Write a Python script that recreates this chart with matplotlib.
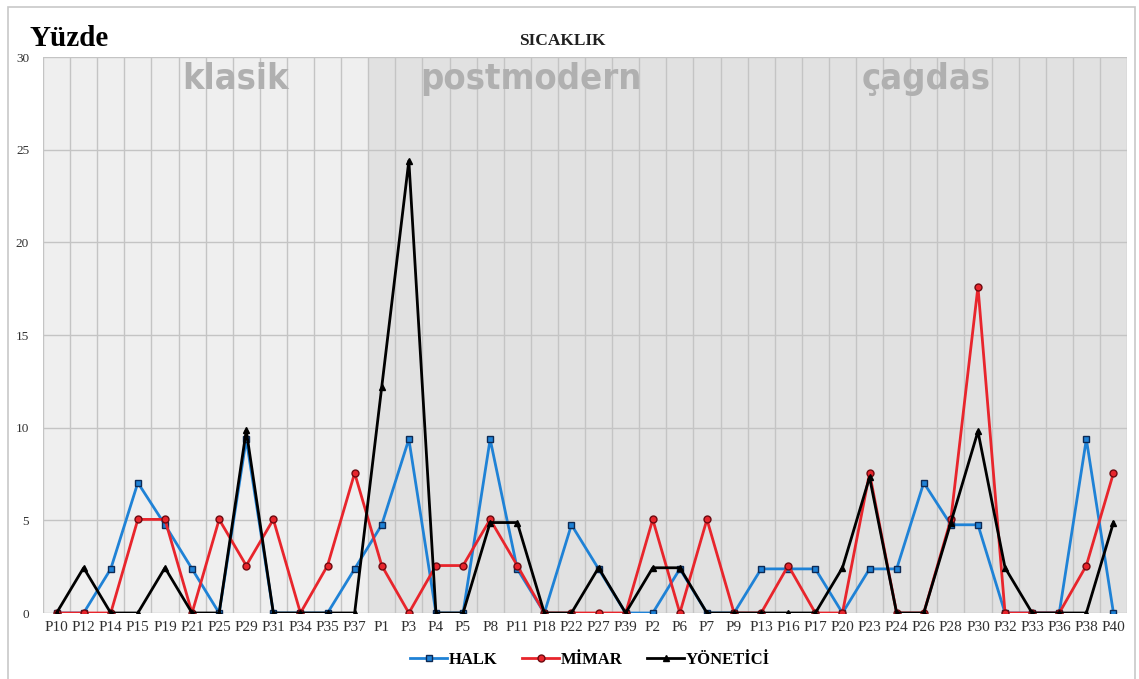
import matplotlib.pyplot as plt
from matplotlib.patches import Rectangle
from matplotlib.lines import Line2D

categories = ['P10', 'P12', 'P14', 'P15', 'P19', 'P21', 'P25', 'P29', 'P31', 'P34', 'P35', 'P37',
              'P1', 'P3', 'P4', 'P5', 'P8', 'P11', 'P18', 'P22', 'P27', 'P39', 'P2', 'P6',
              'P7', 'P9', 'P13', 'P16', 'P17', 'P20', 'P23', 'P24', 'P26', 'P28', 'P30', 'P32',
              'P33', 'P36', 'P38', 'P40']

halk = [0, 0, 2.38, 7.03, 4.76, 2.38, 0, 9.38, 0, 0, 0, 2.38,
        4.76, 9.38, 0, 0, 9.38, 2.38, 0, 4.76, 2.38, 0, 0, 2.38,
        0, 0, 2.38, 2.38, 2.38, 0, 2.38, 2.38, 7.03, 4.76, 4.76, 0,
        0, 0, 9.38, 0]

mimar = [0, 0, 0, 5.05, 5.05, 0, 5.05, 2.56, 5.05, 0, 2.56, 7.55,
         2.56, 0, 2.56, 2.56, 5.05, 2.56, 0, 0, 0, 0, 5.05, 0,
         5.05, 0, 0, 2.56, 0, 0, 7.55, 0, 0, 5.05, 17.6, 0,
         0, 0, 2.56, 7.55]

yonetici = [0, 2.44, 0, 0, 2.44, 0, 0, 9.85, 0, 0, 0, 0,
            12.2, 24.4, 0, 0, 4.88, 4.88, 0, 0, 2.44, 0, 2.44, 2.44,
            0, 0, 0, 0, 0, 2.44, 7.32, 0, 0, 4.88, 9.8, 2.44,
            0, 0, 0, 4.88]

series_names = ['HALK', 'MİMAR', 'YÖNETİCİ']
region_names = ['klasik', 'postmodern', 'çagdas']
region_n = [12, 12, 16]
region_label_x = [6.62, 17.5, 32.1]

serif = ['Liberation Serif', 'DejaVu Serif']

fig = plt.figure(figsize=(11.39, 6.79), dpi=100)
fig.patches.append(Rectangle((8 / 1139, -0.01), 1127 / 1139, 1 - 7 / 679 + 0.01,
                             transform=fig.transFigure, fill=False,
                             edgecolor='#c8c8c8', linewidth=1.2))

ax = fig.add_axes([43 / 1139, 1 - 613 / 679, 1084 / 1139, 556 / 679])
x = list(range(len(categories)))

# background shading for periods
ax.axvspan(-0.5, region_n[0] - 0.5, color='#efefef', zorder=0, lw=0)
ax.axvspan(region_n[0] - 0.5, len(categories) - 0.5, color='#e1e1e1', zorder=0, lw=0)

# grid
for i in range(len(categories) + 1):
    ax.axvline(i - 0.5, color='#c4c4c4', lw=1, zorder=1)
for v in range(0, 31, 5):
    ax.axhline(v, color='#c4c4c4', lw=1, zorder=1)

# period labels
for name, cx in zip(region_names, region_label_x):
    ax.text(cx, 29.75, name, ha='center', va='top', fontsize=26, fontweight='bold',
            family='DejaVu Sans', fontstretch='condensed', color='#b0b0b0', zorder=2)

ax.plot(x, halk, color='#1f82d6', lw=2, marker='s', ms=5, mfc='#1f82d6',
        mec='#0d2a55', mew=1, zorder=3)
ax.plot(x, mimar, color='#e8252c', lw=2, marker='o', ms=5, mfc='#e8252c',
        mec='#6e0a10', mew=1, zorder=4)
ax.plot(x, yonetici, color='black', lw=2, marker='^', ms=5, mfc='black',
        mec='black', zorder=5)

ax.set_xlim(-0.5, len(categories) - 0.5)
ax.set_ylim(0, 30)
ax.set_yticks(range(0, 31, 5))
ax.set_xticks(x)
ax.set_xticklabels(categories, family=serif, fontsize=11, color='#303030')
ax.set_yticklabels([str(v) for v in range(0, 31, 5)], family=serif, fontsize=9.5, color='#303030')
ax.tick_params(length=0, pad=6)
ax.tick_params(axis='y', pad=10)
for s in ax.spines.values():
    s.set_visible(False)

fig.text(30 / 1139, 1 - 38 / 679, 'Yüzde', family=serif, fontweight='bold', fontsize=21,
         va='center', ha='left')
fig.text(562 / 1139, 1 - 41 / 679, 'SICAKLIK', family=serif, fontweight='bold', fontsize=12.5,
         va='center', ha='center', color='#202020')

handles = [
    Line2D([], [], color='#1f82d6', lw=2, marker='s', ms=5, mfc='#1f82d6', mec='#0d2a55'),
    Line2D([], [], color='#e8252c', lw=2, marker='o', ms=5, mfc='#e8252c', mec='#6e0a10'),
    Line2D([], [], color='black', lw=2, marker='^', ms=5),
]
fig.legend(handles, series_names, loc='center', bbox_to_anchor=(590 / 1139, 1 - 660 / 679),
           ncol=3, frameon=False, handlelength=2.2, handletextpad=0.1, columnspacing=1.5,
           prop={'family': serif, 'weight': 'bold', 'size': 12})

fig.savefig('out.png', dpi=100)
